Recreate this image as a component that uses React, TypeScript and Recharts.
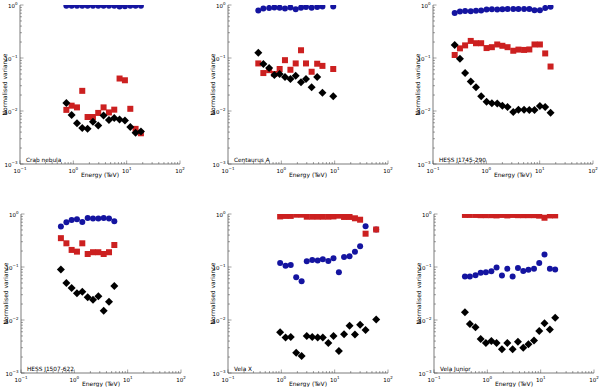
import React from 'react';
import { ScatterChart, Scatter, XAxis, YAxis, ReferenceArea } from 'recharts';

// ---------- data ----------
const crabEnergy = [0.74, 0.93, 1.17, 1.47, 1.85, 2.33, 2.93, 3.69, 4.65, 5.85, 7.36, 9.27, 11.7, 14.7, 18.5];
const crabBlue = [0.97, 0.97, 0.97, 0.97, 0.97, 0.97, 0.97, 0.97, 0.97, 0.97, 0.94, 0.95, 0.97, 0.97, 0.97];
const crabRed = [0.0105, 0.0126, 0.0117, 0.024, 0.0077, 0.0077, 0.0092, 0.0117, 0.0094, 0.0106, 0.041, 0.038, 0.011, 0.0046, 0.0038];
const crabBlack = [0.0142, 0.0084, 0.0059, 0.0048, 0.0046, 0.0063, 0.0053, 0.0082, 0.0068, 0.0074, 0.0069, 0.0066, 0.005, 0.0039, 0.0041];

const cenEnergy = [0.37, 0.46, 0.59, 0.74, 0.93, 1.17, 1.48, 1.86, 2.34, 2.9, 3.7, 4.7, 5.9, 9.4];
const cenBlue = [0.79, 0.86, 0.88, 0.9, 0.89, 0.86, 0.9, 0.83, 0.89, 0.92, 0.89, 0.92, 0.94, 0.94];
const cenRed = [0.079, 0.052, 0.059, 0.05, 0.062, 0.091, 0.06, 0.079, 0.14, 0.079, 0.055, 0.078, 0.071, 0.062];
const cenBlack = [0.126, 0.077, 0.065, 0.048, 0.05, 0.044, 0.04, 0.046, 0.035, 0.04, 0.028, 0.044, 0.022, 0.019];

const j1745Energy = [0.255, 0.32, 0.4, 0.51, 0.64, 0.8, 1.01, 1.27, 1.6, 2.0, 2.5, 3.2, 4.0, 5.1, 6.4, 8.0, 10.1, 12.7, 16.0];
const j1745Blue = [0.71, 0.75, 0.77, 0.76, 0.78, 0.79, 0.82, 0.83, 0.82, 0.83, 0.84, 0.84, 0.84, 0.84, 0.84, 0.8, 0.8, 0.88, 0.93];
const j1745Red = [0.114, 0.152, 0.173, 0.21, 0.19, 0.19, 0.154, 0.16, 0.18, 0.17, 0.16, 0.137, 0.144, 0.142, 0.145, 0.18, 0.18, 0.122, 0.069];
const j1745Black = [0.176, 0.097, 0.052, 0.036, 0.028, 0.019, 0.015, 0.014, 0.0138, 0.0126, 0.0119, 0.0096, 0.0106, 0.0106, 0.0104, 0.0104, 0.0124, 0.0119, 0.0093];

const j1507Energy = [0.56, 0.71, 0.89, 1.12, 1.41, 1.78, 2.24, 2.82, 3.55, 4.47, 5.62];
const j1507Blue = [0.58, 0.7, 0.77, 0.8, 0.71, 0.84, 0.82, 0.82, 0.84, 0.82, 0.73];
const j1507Red = [0.35, 0.28, 0.21, 0.195, 0.28, 0.176, 0.19, 0.19, 0.176, 0.19, 0.26];
const j1507Black = [0.09, 0.05, 0.04, 0.032, 0.034, 0.027, 0.024, 0.028, 0.015, 0.022, 0.044];

const velaXEnergy = [0.95, 1.2, 1.5, 1.9, 2.4, 3.0, 3.8, 4.8, 6.0, 7.6, 9.5, 12, 15, 19, 24, 30, 38, 60];
const velaXRed = [0.9, 0.92, 0.92, 0.97, 0.97, 0.89, 0.89, 0.89, 0.89, 0.89, 0.9, 0.93, 0.88, 0.88, 0.83, 0.78, 0.425, 0.51];
const velaXBlue = [0.119, 0.106, 0.109, 0.064, 0.054, 0.128, 0.135, 0.133, 0.14, 0.13, 0.146, 0.08, 0.154, 0.159, 0.195, 0.245, 0.59, 0.51];
const velaXBlack = [0.0059, 0.0047, 0.0048, 0.0024, 0.0021, 0.005, 0.0048, 0.0047, 0.0047, 0.0037, 0.005, 0.0026, 0.0054, 0.0078, 0.0053, 0.0081, 0.0065, 0.0102];

const velaJrEnergy = [0.38, 0.47, 0.6, 0.75, 0.94, 1.19, 1.49, 1.88, 2.37, 2.98, 3.75, 4.72, 5.9, 7.5, 9.4, 11.8, 14.9, 18.7];
const velaJrRed = [0.96, 0.96, 0.96, 0.95, 0.95, 0.95, 0.94, 0.96, 0.94, 0.96, 0.95, 0.95, 0.95, 0.95, 0.93, 0.85, 0.94, 0.94];
const velaJrBlue = [0.066, 0.066, 0.07, 0.078, 0.08, 0.083, 0.098, 0.069, 0.093, 0.066, 0.096, 0.084, 0.089, 0.093, 0.119, 0.173, 0.093, 0.09];
const velaJrBlack = [0.014, 0.0084, 0.0073, 0.0044, 0.0037, 0.004, 0.0037, 0.0028, 0.0037, 0.0028, 0.0039, 0.003, 0.0035, 0.0041, 0.0062, 0.0087, 0.0066, 0.011];

const xTicks = [0.1, 0.2, 0.3, 0.4, 0.5, 0.6, 0.7, 0.8, 0.9, 1, 2, 3, 4, 5, 6, 7, 8, 9, 10, 20, 30, 40, 50, 60, 70, 80, 90, 100];
const yTicks = [0.001, 0.002, 0.003, 0.004, 0.005, 0.006, 0.007, 0.008, 0.009, 0.01, 0.02, 0.03, 0.04, 0.05, 0.06, 0.07, 0.08, 0.09, 0.1, 0.2, 0.3, 0.4, 0.5, 0.6, 0.7, 0.8, 0.9, 1];

// ---------- styling ----------
const FONT = 'DejaVu Sans';
const BLUE = '#1414a0';
const RED = '#cc2020';
const BLACK = '#000000';
const AXIS = '#444';
const PLOT_W = 160;
const PLOT_H = 159;
const Y_AXIS_W = 24;
const X_AXIS_H = 26;
const PAD = 6;

const isMajor = (v: number) => Math.abs(Math.log10(v) - Math.round(Math.log10(v))) < 1e-6;
const expText = (v: number) => {
  const e = Math.round(Math.log10(v));
  return e < 0 ? '\u2212' + -e : String(e);
};

const Pow = ({ x, y, v, anchor }: any) => (
  <text x={x} y={y} textAnchor={anchor} fontSize={5.5} fontFamily={FONT} fill="#000">
    10
    <tspan dy={-2.6} fontSize={4}>{expText(v)}</tspan>
  </text>
);

const BottomTick = (props: any) => {
  const { x, y, payload } = props;
  const maj = isMajor(payload.value);
  return (
    <g>
      <line x1={x} x2={x} y1={y} y2={y - (maj ? 3.5 : 2)} stroke={AXIS} strokeWidth={0.5} />
      {maj && <Pow x={x} y={y + 8.5} v={payload.value} anchor="middle" />}
    </g>
  );
};
const TopTick = (props: any) => {
  const { x, y, payload } = props;
  const maj = isMajor(payload.value);
  return <line x1={x} x2={x} y1={y} y2={y + (maj ? 3.5 : 2)} stroke={AXIS} strokeWidth={0.5} />;
};
const LeftTick = (props: any) => {
  const { x, y, payload } = props;
  const maj = isMajor(payload.value);
  return (
    <g>
      <line x1={x} x2={x + (maj ? 3.5 : 2)} y1={y} y2={y} stroke={AXIS} strokeWidth={0.5} />
      {maj && <Pow x={x - 2.5} y={y + 2.5} v={payload.value} anchor="end" />}
    </g>
  );
};
const RightTick = (props: any) => {
  const { x, y, payload } = props;
  const maj = isMajor(payload.value);
  return <line x1={x} x2={x - (maj ? 3.5 : 2)} y1={y} y2={y} stroke={AXIS} strokeWidth={0.5} />;
};

const Circle = (p: any) => <circle cx={p.cx} cy={p.cy} r={3} fill={BLUE} />;
const Square = (p: any) => <rect x={p.cx - 3} y={p.cy - 3} width={6} height={6} fill={RED} />;
const Diamond = (p: any) => (
  <polygon points={`${p.cx},${p.cy - 4} ${p.cx + 4},${p.cy} ${p.cx},${p.cy + 4} ${p.cx - 4},${p.cy}`} fill={BLACK} />
);

const toPts = (energy: number[], vals: number[]) => energy.map((e, i) => ({ x: e, y: vals[i] }));

const panels = [
  { name: 'Crab nebula', energy: crabEnergy, blue: crabBlue, red: crabRed, black: crabBlack, left: 20, top: 5 },
  { name: 'Centaurus A', energy: cenEnergy, blue: cenBlue, red: cenRed, black: cenBlack, left: 228, top: 5 },
  { name: 'HESS J1745-290', energy: j1745Energy, blue: j1745Blue, red: j1745Red, black: j1745Black, left: 433, top: 5 },
  { name: 'HESS J1507-622', energy: j1507Energy, blue: j1507Blue, red: j1507Red, black: j1507Black, left: 21, top: 214 },
  { name: 'Vela X', energy: velaXEnergy, blue: velaXBlue, red: velaXRed, black: velaXBlack, left: 228, top: 214 },
  { name: 'Vela Junior', energy: velaJrEnergy, blue: velaJrBlue, red: velaJrRed, black: velaJrBlack, left: 434, top: 214 },
];

// labels drawn in chart coordinates (chart origin is fixed by layout)
const YLabel = () => {
  const cx = 8;
  const cy = PAD + PLOT_H / 2;
  return (
    <text x={cx} y={cy} transform={`rotate(-90, ${cx}, ${cy})`} textAnchor="middle" dominantBaseline="central" fontSize={6} fontFamily={FONT} fill="#000">
      Normalised variance
    </text>
  );
};
const XLabel = () => (
  <text x={Y_AXIS_W + PLOT_W / 2} y={PAD + PLOT_H + 12.5} textAnchor="middle" fontSize={6} fontFamily={FONT} fill="#000">
    Energy (TeV)
  </text>
);

const Panel = ({ p }: any) => {
  const nameLabel = () => (
    <text x={Y_AXIS_W + 6} y={PAD + PLOT_H - 2.5} textAnchor="start" fontSize={5.8} fontFamily={FONT} fill="#000">
      {p.name}
    </text>
  );
  return (
    <div style={{ position: 'absolute', left: p.left - Y_AXIS_W, top: p.top - PAD }}>
      <ScatterChart
        width={Y_AXIS_W + PLOT_W + PAD}
        height={PAD + PLOT_H + X_AXIS_H}
        margin={{ top: PAD, right: PAD, bottom: 0, left: 0 }}
      >
        <XAxis xAxisId="b" dataKey="x" type="number" scale="log" domain={[0.1, 100]} allowDataOverflow ticks={xTicks} interval={0}
          height={X_AXIS_H} tickLine={false} tickSize={0} tickMargin={0} tick={BottomTick} axisLine={{ stroke: AXIS, strokeWidth: 0.7 }}
          label={{ content: XLabel }} />
        <XAxis xAxisId="t" orientation="top" dataKey="x" type="number" scale="log" domain={[0.1, 100]} allowDataOverflow ticks={xTicks} interval={0}
          height={0} tickLine={false} tickSize={0} tickMargin={0} tick={TopTick} axisLine={{ stroke: AXIS, strokeWidth: 0.7 }} />
        <YAxis yAxisId="l" dataKey="y" type="number" scale="log" domain={[0.001, 1]} allowDataOverflow ticks={yTicks} interval={0}
          width={Y_AXIS_W} tickLine={false} tickSize={0} tickMargin={0} tick={LeftTick} axisLine={{ stroke: AXIS, strokeWidth: 0.7 }}
          label={{ content: YLabel }} />
        <YAxis yAxisId="r" orientation="right" dataKey="y" type="number" scale="log" domain={[0.001, 1]} allowDataOverflow ticks={yTicks} interval={0}
          width={0} tickLine={false} tickSize={0} tickMargin={0} tick={RightTick} axisLine={{ stroke: AXIS, strokeWidth: 0.7 }} />
        <ReferenceArea xAxisId="b" yAxisId="l" x1={0.1} x2={100} y1={0.001} y2={1} fill="none" stroke="none" label={{ content: nameLabel }} />
        <Scatter xAxisId="b" yAxisId="l" data={toPts(p.energy, p.blue)} shape={Circle} isAnimationActive={false} />
        <Scatter xAxisId="b" yAxisId="l" data={toPts(p.energy, p.red)} shape={Square} isAnimationActive={false} />
        <Scatter xAxisId="b" yAxisId="l" data={toPts(p.energy, p.black)} shape={Diamond} isAnimationActive={false} />
      </ScatterChart>
    </div>
  );
};

export default function App() {
  return (
    <div style={{ position: 'absolute', left: 0, top: 0, width: 600, height: 387, background: '#fff', overflow: 'hidden' }}>
      {panels.map((p) => (
        <Panel key={p.name} p={p} />
      ))}
    </div>
  );
}
